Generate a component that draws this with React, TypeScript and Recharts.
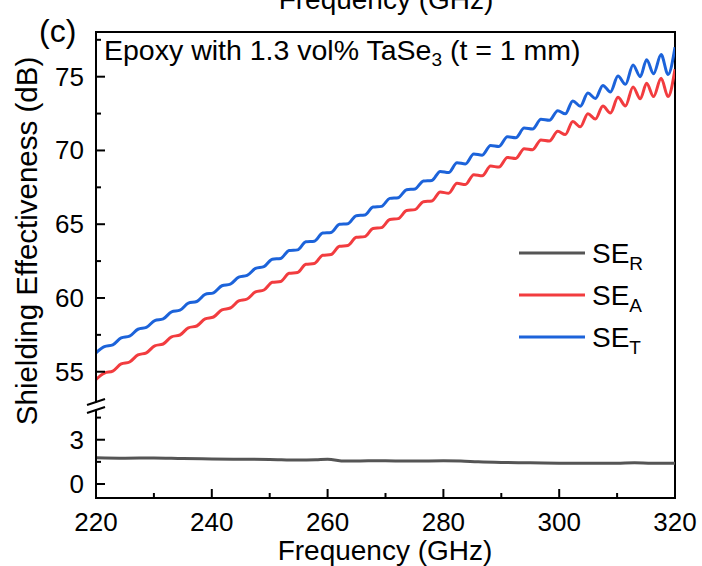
import React from "react";
import { LineChart, Line, XAxis, YAxis, ReferenceArea } from "recharts";

// frequency points (GHz) for SE_A / SE_T, at the wiggle peaks and troughs
const freq = [
  220.0, 221.45, 222.9, 224.35, 225.8, 227.25, 228.7, 230.15, 231.6, 233.05,
  234.5, 235.95, 237.4, 238.85, 240.3, 241.75, 243.2, 244.65, 246.1, 247.55,
  249.0, 250.45, 251.9, 253.35, 254.8, 256.25, 257.7, 259.15, 260.6, 262.05,
  263.5, 264.95, 266.4, 267.85, 269.3, 270.75, 272.2, 273.65, 275.1, 276.55,
  278.0, 279.45, 280.9, 282.35, 283.8, 285.25, 286.7, 288.15, 289.6, 291.05,
  292.5, 293.95, 295.4, 296.85, 298.3, 299.75, 301.05, 302.35, 303.65, 304.95,
  306.25, 307.55, 308.85, 310.15, 311.45, 312.75, 314.0, 315.1, 316.3, 317.6,
  318.8, 320.0,
];

const seT = [
  56.28, 56.7, 56.82, 57.29, 57.41, 57.88, 58.0, 58.47, 58.58, 59.06,
  59.17, 59.65, 59.76, 60.24, 60.35, 60.83, 60.94, 61.41, 61.53, 62.0,
  62.12, 62.63, 62.68, 63.22, 63.26, 63.81, 63.85, 64.4, 64.44, 64.99,
  65.03, 65.58, 65.62, 66.16, 66.21, 66.75, 66.8, 67.34, 67.39, 67.93,
  67.97, 68.58, 68.5, 69.17, 69.09, 69.76, 69.68, 70.34, 70.27, 70.93,
  70.86, 71.52, 71.45, 72.11, 72.04, 72.7, 72.48, 73.36, 73.0, 73.89,
  73.53, 74.41, 73.96, 75.04, 74.48, 75.8, 75.0, 76.15, 75.2, 76.5,
  75.15, 77.0,
];

const seA = [
  54.48, 54.91, 55.04, 55.53, 55.66, 56.14, 56.28, 56.76, 56.88, 57.37,
  57.49, 57.98, 58.1, 58.59, 58.71, 59.2, 59.32, 59.8, 59.93, 60.41,
  60.54, 61.06, 61.12, 61.67, 61.72, 62.28, 62.33, 62.89, 62.94, 63.5,
  63.55, 64.11, 64.16, 64.71, 64.77, 65.32, 65.38, 65.93, 65.99, 66.53,
  66.57, 67.18, 67.1, 67.77, 67.69, 68.36, 68.28, 68.94, 68.87, 69.53,
  69.46, 70.12, 70.05, 70.71, 70.64, 71.3, 71.08, 71.96, 71.6, 72.49,
  72.13, 73.01, 72.54, 73.6, 73.02, 74.3, 73.5, 74.55, 73.65, 74.9,
  73.65, 75.5,
];

const freqR = [
  220, 225, 230, 235, 240, 245, 250, 255, 258, 260, 263, 267, 270, 275, 280,
  283, 286, 290, 295, 300, 305, 310, 313, 316, 320,
];
const seR = [
  1.78, 1.75, 1.76, 1.72, 1.7, 1.68, 1.66, 1.62, 1.64, 1.67, 1.55, 1.58, 1.58,
  1.55, 1.57, 1.55, 1.5, 1.46, 1.44, 1.41, 1.4, 1.41, 1.44, 1.4, 1.4,
];

const xMajor = [220, 240, 260, 280, 300, 320];
const xMinor = [230, 250, 270, 290, 310];
const upperMajor = [55, 60, 65, 70, 75];
const upperMinor = [57.5, 62.5, 67.5, 72.5, 77.5];
const lowerMajor = [0, 3];
const lowerMinor = [1.5, 4.5];

// broken axis: the lower segment (SE_R) is shifted up onto the same scale
const LOWER_SHIFT = 47.39;
const Y_MIN = 46.44;
const Y_MAX = 78.03;

const PLOT_LEFT = 96;
const PLOT_BOTTOM = 498;
const FONT = "'Liberation Sans', Arial, sans-serif";

const COLOR_R = "#555555";
const COLOR_A = "#f23c3f";
const COLOR_T = "#1c63da";

const mainData = freq.map((f, i) => ({ f, a: seA[i], t: seT[i] }));
const rData = freqR.map((f, i) => ({ f, r: seR[i] + LOWER_SHIFT }));

const yLabels = new Map<number, string>();
upperMajor.forEach((v) => yLabels.set(v, String(v)));
lowerMajor.forEach((v) => yLabels.set(+(v + LOWER_SHIFT).toFixed(2), String(v)));
const yTicks = [
  ...upperMajor,
  ...upperMinor,
  ...lowerMajor.map((v) => +(v + LOWER_SHIFT).toFixed(2)),
  ...lowerMinor.map((v) => +(v + LOWER_SHIFT).toFixed(2)),
].sort((a, b) => a - b);

function YTick(props: any) {
  const { y, payload } = props;
  const label = yLabels.get(payload.value);
  return (
    <g>
      <line
        x1={PLOT_LEFT}
        x2={PLOT_LEFT + (label ? 9 : 5)}
        y1={y}
        y2={y}
        stroke="#000"
        strokeWidth={2}
      />
      {label && (
        <text
          x={PLOT_LEFT - 12}
          y={y + 9}
          textAnchor="end"
          fontSize={26}
          fontFamily={FONT}
          fill="#000"
        >
          {label}
        </text>
      )}
    </g>
  );
}

function XTick(props: any) {
  const { x, payload } = props;
  const major = xMajor.includes(payload.value);
  return (
    <g>
      <line
        x1={x}
        x2={x}
        y1={PLOT_BOTTOM}
        y2={PLOT_BOTTOM - (major ? 9 : 5)}
        stroke="#000"
        strokeWidth={2}
      />
      {major && (
        <text
          x={x}
          y={PLOT_BOTTOM + 33}
          textAnchor="middle"
          fontSize={26}
          fontFamily={FONT}
          fill="#000"
        >
          {payload.value}
        </text>
      )}
    </g>
  );
}

const legendItems = [
  { name: "SE", sub: "R", color: COLOR_R, y: 253 },
  { name: "SE", sub: "A", color: COLOR_A, y: 295 },
  { name: "SE", sub: "T", color: COLOR_T, y: 337 },
];

export default function App() {
  return (
    <div
      style={{
        position: "absolute",
        left: 0,
        top: 0,
        width: 702,
        height: 566,
        background: "#fff",
      }}
    >
      <LineChart
        width={702}
        height={566}
        data={mainData}
        margin={{ top: 32, right: 27, left: 36, bottom: 28 }}
      >
        <ReferenceArea
          x1={220}
          x2={320}
          y1={Y_MIN}
          y2={Y_MAX}
          fill="none"
          stroke="#000"
          strokeWidth={2}
          ifOverflow="visible"
        />
        <XAxis
          dataKey="f"
          type="number"
          domain={[220, 320]}
          ticks={[...xMajor, ...xMinor].sort((a, b) => a - b)}
          interval={0}
          allowDataOverflow
          height={40}
          axisLine={{ stroke: "#000", strokeWidth: 2 }}
          tickLine={false}
          tick={<XTick />}
        />
        <YAxis
          type="number"
          domain={[Y_MIN, Y_MAX]}
          ticks={yTicks}
          interval={0}
          allowDataOverflow
          width={60}
          axisLine={{ stroke: "#000", strokeWidth: 2 }}
          tickLine={false}
          tick={<YTick />}
        />
        <Line
          data={rData}
          dataKey="r"
          type="monotone"
          stroke={COLOR_R}
          strokeWidth={3}
          dot={false}
          isAnimationActive={false}
        />
        <Line
          dataKey="a"
          type="monotone"
          stroke={COLOR_A}
          strokeWidth={3}
          dot={false}
          isAnimationActive={false}
        />
        <Line
          dataKey="t"
          type="monotone"
          stroke={COLOR_T}
          strokeWidth={3}
          dot={false}
          isAnimationActive={false}
        />
      </LineChart>
      <svg
        width={702}
        height={566}
        style={{ position: "absolute", left: 0, top: 0, pointerEvents: "none" }}
        fontFamily={FONT}
      >
        {/* axis break */}
        <rect x={91} y={402.5} width={10} height={7} fill="#fff" />
        <line x1={87} y1={405} x2={105} y2={399} stroke="#000" strokeWidth={2} />
        <line x1={87} y1={413} x2={105} y2={407} stroke="#000" strokeWidth={2} />

        <text x={386} y={9} textAnchor="middle" fontSize={28} fill="#000">
          Frequency (GHz)
        </text>
        <text x={39} y={42} fontSize={32} fill="#000">
          (c)
        </text>
        <text x={104} y={60} fontSize={28.5} fill="#000">
          Epoxy with 1.3 vol% TaSe
          <tspan fontSize={19} dy={6}>
            3
          </tspan>
          <tspan dy={-6}> (t = 1 mm)</tspan>
        </text>

        {legendItems.map((it) => (
          <g key={it.sub}>
            <line
              x1={519}
              x2={585}
              y1={it.y}
              y2={it.y}
              stroke={it.color}
              strokeWidth={3}
            />
            <text x={592} y={it.y + 10} fontSize={28} fill="#000">
              {it.name}
              <tspan fontSize={19} dy={7}>
                {it.sub}
              </tspan>
            </text>
          </g>
        ))}

        <text x={385} y={560} textAnchor="middle" fontSize={28} fill="#000">
          Frequency (GHz)
        </text>
        <text
          transform="translate(37, 241) rotate(-90)"
          textAnchor="middle"
          fontSize={29.5}
          fill="#000"
        >
          Shielding Effectiveness (dB)
        </text>
      </svg>
    </div>
  );
}
